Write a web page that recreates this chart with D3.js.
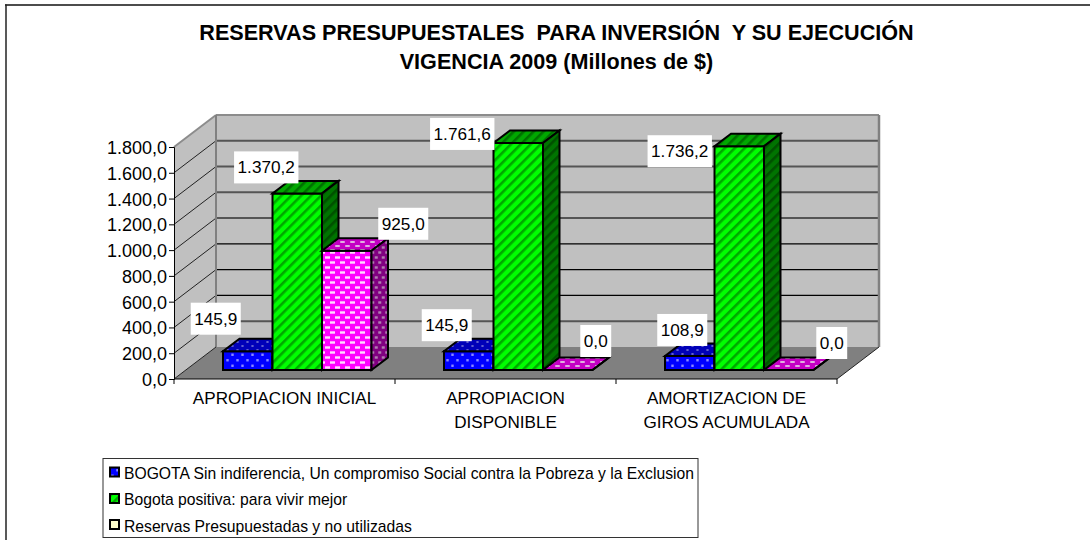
<!DOCTYPE html>
<html><head><meta charset="utf-8">
<script src="https://cdn.jsdelivr.net/npm/d3@7"></script>
<style>html,body{margin:0;padding:0;background:#fff}svg{display:block}text{font-family:"Liberation Sans",Arial,sans-serif;fill:#000}</style>
</head><body>
<svg id="c" width="1090" height="540"></svg>
<script>
const titleLines = ["RESERVAS PRESUPUESTALES  PARA INVERSIÓN  Y SU EJECUCIÓN", "VIGENCIA 2009 (Millones de $)"];
const categories = ["APROPIACION INICIAL", "APROPIACION DISPONIBLE", "AMORTIZACION DE GIROS ACUMULADA"];
const categoryLines = [["APROPIACION INICIAL"], ["APROPIACION", "DISPONIBLE"], ["AMORTIZACION DE", "GIROS ACUMULADA"]];
const seriesNames = ["BOGOTA Sin indiferencia, Un compromiso Social contra la Pobreza y la Exclusion", "Bogota positiva: para vivir mejor", "Reservas Presupuestadas y no utilizadas"];
const bogotaSinIndiferencia = [145.9, 145.9, 108.9];
const bogotaPositiva = [1370.2, 1761.6, 1736.2];
const reservas = [925.0, 0.0, 0.0];
const yTicks = [0, 200, 400, 600, 800, 1000, 1200, 1400, 1600, 1800];

const svg = d3.select("#c");
const fmt = d3.formatLocale({decimal: ",", thousands: ".", grouping: [3], currency: ["", ""]}).format(",.1f");

// chart geometry
const left = 174, right = 837, base = 379, top3d = 147, wallDx = 42, wallDy = 32;
const barDx = 16.5, barDy = 12.5, barLift = 9;
const y = d3.scaleLinear().domain([0, 1800]).range([base, top3d]);
const x0 = d3.scaleBand().domain(categories).range([left, right]);
const x1 = d3.scaleBand().domain(d3.range(3)).range([49, 49 + 148.5]);

// patterns
const defs = svg.append("defs");
function dots(id, bg, dot, w, h, rw, rh) {
  const p = defs.append("pattern").attr("id", id).attr("patternUnits", "userSpaceOnUse").attr("width", w).attr("height", h);
  p.append("rect").attr("width", w).attr("height", h).attr("fill", bg);
  [[w / 4, h / 4], [3 * w / 4, 3 * h / 4]].forEach(([cx, cy]) =>
    p.append("rect").attr("x", cx - rw / 2).attr("y", cy - rh / 2).attr("width", rw).attr("height", rh).attr("fill", dot));
}
function diag(id, bg, line) {
  const p = defs.append("pattern").attr("id", id).attr("patternUnits", "userSpaceOnUse").attr("width", 7).attr("height", 7).attr("patternTransform", "rotate(45)");
  p.append("rect").attr("width", 7).attr("height", 7).attr("fill", bg);
  p.append("rect").attr("width", 2.6).attr("height", 7).attr("fill", line);
}
dots("b-f", "#0000ff", "#8c8cff", 10, 11, 2.4, 2.4);
dots("b-t", "#0000b8", "#6a6ad0", 10, 8, 2.2, 1.8);
diag("g-f", "#00ff00", "#00a800");
diag("g-t", "#00a800", "#007000");
diag("g-s", "#007400", "#005000");
dots("p-f", "#ff00ff", "#ffd8ff", 10, 10, 5, 2.4);
dots("p-t", "#c400c4", "#e0b0e0", 10, 8, 4.5, 2);
dots("p-s", "#800080", "#b080b0", 7, 10, 3, 2.4);

// walls and floor
const poly = (pts, fill, stroke, sw) => svg.append("polygon").attr("points", pts.map(p => p.join(",")).join(" "))
  .attr("fill", fill).attr("stroke", stroke || "none").attr("stroke-width", sw || 0).attr("stroke-linejoin", "miter");
poly([[left, base], [left + wallDx, base - wallDy], [left + wallDx, top3d - wallDy], [left, top3d]], "#c0c0c0");
poly([[left + wallDx, base - wallDy], [right + wallDx, base - wallDy], [right + wallDx, top3d - wallDy], [left + wallDx, top3d - wallDy]], "#c0c0c0");
poly([[left, base], [right, base], [right + wallDx, base - wallDy], [left + wallDx, base - wallDy]], "#808080");

// gridlines
const thinGrid = new Set([400, 600, 800]);
yTicks.filter(v => v > 0 && v < 1800).forEach(v => {
  const thin = thinGrid.has(v), c = thin ? "#000" : "#555", w = thin ? 1.2 : 2;
  svg.append("line").attr("x1", left + wallDx).attr("x2", right + wallDx).attr("y1", y(v) - wallDy).attr("y2", y(v) - wallDy).attr("stroke", c).attr("stroke-width", w);
});
yTicks.filter(v => v > 0 && v < 1800).forEach(v =>
  svg.append("line").attr("x1", left).attr("x2", left + wallDx).attr("y1", y(v)).attr("y2", y(v) - wallDy).attr("stroke", "#222").attr("stroke-width", 1));
// wall edges
const edge = (x1_, y1_, x2_, y2_, c, w) => svg.append("line").attr("x1", x1_).attr("y1", y1_).attr("x2", x2_).attr("y2", y2_).attr("stroke", c).attr("stroke-width", w);
edge(left, top3d, left + wallDx, top3d - wallDy, "#8c8c8c", 2);
edge(left + wallDx, top3d - wallDy, right + wallDx, top3d - wallDy, "#8c8c8c", 2);
edge(left + wallDx, top3d - wallDy, left + wallDx, base - wallDy, "#808080", 2);
edge(right + wallDx, top3d - wallDy, right + wallDx, base - wallDy, "#808080", 2.5);
edge(right, base, right + wallDx, base - wallDy, "#222", 1);
edge(left, base, left + wallDx, base - wallDy, "#222", 1);

// bars
const allSeries = [bogotaSinIndiferencia, bogotaPositiva, reservas];
const styles = [["b-f", "b-t", "#0000a0"], ["g-f", "g-t", "url(#g-s)"], ["p-f", "p-t", "url(#p-s)"]];
const barGeom = (c, s) => {
  const xa = x0(categories[c]) + x1(s), xb = xa + x1.bandwidth();
  const yb = y(0) - barLift, yt = yb - (y(0) - y(allSeries[s][c]));
  return {xa, xb, yb, yt};
};
categories.forEach((cat, c) => {
  allSeries.forEach((vals, s) => {
    const {xa, xb, yb, yt} = barGeom(c, s);
    const st = styles[s];
    if (vals[c] > 0) poly([[xa, yb], [xb, yb], [xb, yt], [xa, yt]], `url(#${st[0]})`, "#000", 2);
    poly([[xa, yt], [xb, yt], [xb + barDx, yt - barDy], [xa + barDx, yt - barDy]], `url(#${st[1]})`, "#000", 2);
    poly([[xb, yb], [xb + barDx, yb - barDy], [xb + barDx, yt - barDy], [xb, yt]], st[2], "#000", 2);
  });
});

// axes
const gy = svg.append("g").attr("transform", `translate(${left},0)`).call(d3.axisLeft(y).tickValues(yTicks).tickFormat(fmt).tickSize(5).tickPadding(2));
gy.selectAll("text").style("font-size", "18px").style("font-family", '"Liberation Sans"').attr("dy", "0.36em");
gy.selectAll("path,line").attr("stroke", "#000").attr("stroke-width", 1);
const edges = [left, ...categories.map(c => x0(c) + x0.bandwidth())];
edge(left, base, right, base, "#000", 1);
edges.forEach(e => edge(e, base, e, base + 5, "#000", 1));
categories.forEach((cat, c) => categoryLines[c].forEach((ln, i) =>
  svg.append("text").attr("x", x0(cat) + x0.bandwidth() / 2).attr("y", 404 + i * 23.5).attr("text-anchor", "middle").style("font-size", "17.1px").text(ln)));

// data labels: offset of the white box centre from the bar's front-top centre
const labelOffsets = [
  [[-32, -32.5], [-31, -26], [56.5, -27]],
  [[-22, -26], [-56, -9], [28, -29]],
  [[-7.5, -26], [-59.5, 5], [43, -27]]
];
categories.forEach((cat, c) => allSeries.forEach((vals, s) => {
  const {xa, xb, yt} = barGeom(c, s);
  const [dx, dy] = labelOffsets[c][s];
  const cx = (xa + xb) / 2 + dx, cy = yt + dy;
  const r = svg.append("rect").attr("fill", "#fff");
  const t = svg.append("text").attr("x", cx).attr("y", cy + 6).attr("text-anchor", "middle").style("font-size", "17.2px").text(fmt(vals[c]));
  const w = t.node().getComputedTextLength() + 7;
  r.attr("x", cx - w / 2).attr("y", cy - 16).attr("width", w).attr("height", 32);
}));

// title
titleLines.forEach((ln, i) => svg.append("text").attr("x", 556.5).attr("y", 39.5 + i * 29).attr("text-anchor", "middle").style("font-size", "21.6px").style("font-weight", "bold").style("white-space", "pre").attr("xml:space", "preserve").text(ln));

// outer frame
edge(5, 5, 1090, 5, "#111", 1.5);
edge(6, 4.5, 6, 540, "#222", 1.5);

// legend
svg.append("rect").attr("x", 103).attr("y", 458.5).attr("width", 595).attr("height", 79).attr("fill", "#fff").attr("stroke", "#333").attr("stroke-width", 1);
const keyFills = ["url(#b-f)", "url(#g-f)", "#ffffcc"];
const keyY = [472, 498.5, 524.5], textY = [478.5, 504.5, 531.5];
seriesNames.forEach((n, i) => {
  svg.append("rect").attr("x", 110).attr("y", keyY[i] - 4.5).attr("width", 9).attr("height", 9).attr("fill", keyFills[i]).attr("stroke", "#000").attr("stroke-width", 2);
  svg.append("text").attr("x", 124).attr("y", textY[i]).style("font-size", "15.7px").text(n);
});
</script>
</body></html>
